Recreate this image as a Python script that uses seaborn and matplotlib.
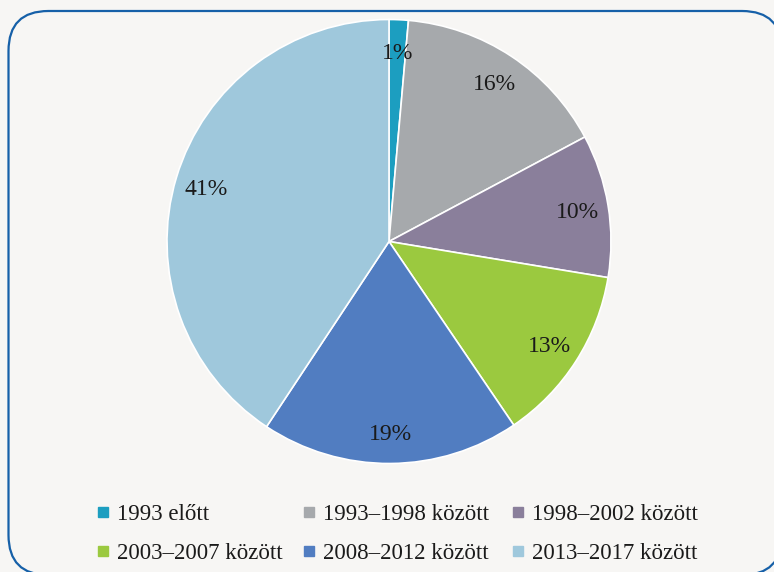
import matplotlib.pyplot as plt
import seaborn as sns
from matplotlib.patches import FancyBboxPatch
from matplotlib.lines import Line2D

sns.set_theme(style='white')
plt.rcParams['font.family'] = ['Liberation Serif', 'DejaVu Serif']

# Data
labels = ['1993 előtt', '1993–1998 között', '1998–2002 között',
          '2003–2007 között', '2008–2012 között', '2013–2017 között']
shares = [1.4, 15.8, 10.4, 12.9, 18.8, 40.7]
colors = ['#1c9ec0', '#a6a9ac', '#8a7f9b', '#9bc93f', '#517dc1', '#9fc8dc']

bg = '#f7f6f4'
fig = plt.figure(figsize=(7.74, 5.72), dpi=100, facecolor=bg)

# rounded frame drawn on a full-figure axes in pixel units
frame_ax = fig.add_axes([0, 0, 1, 1])
frame_ax.set_xlim(0, 774)
frame_ax.set_ylim(0, 572)
frame_ax.axis('off')
frame_ax.add_patch(FancyBboxPatch((8.5, -3), 773.5, 564, boxstyle='round,pad=0,rounding_size=40',
                                  facecolor=bg, edgecolor='#1660a8', linewidth=1.6))

# pie
cx, cy, r = 389, 241.5, 222
ax = fig.add_axes([(cx - r) / 774, (572 - cy - r) / 572, 2 * r / 774, 2 * r / 572])
wedges, texts, autotexts = ax.pie(shares, colors=colors, startangle=90, counterclock=False,
                                  autopct='%.0f%%', pctdistance=0.86,
                                  wedgeprops=dict(edgecolor='white', linewidth=1.2),
                                  textprops=dict(fontsize=17, color='#1a1a1a'))
for t in autotexts:
    t.set_va('center_baseline')
ax.set_xlim(-1, 1)
ax.set_ylim(-1, 1)
ax.set_aspect('equal')
ax.axis('off')

# legend: three columns of two rows each
col_x = [96, 302, 511]
for c in range(3):
    idx = [c, c + 3]
    handles = [Line2D([], [], marker='s', linestyle='none', markersize=6.5,
                      markerfacecolor=colors[i], markeredgecolor=colors[i]) for i in idx]
    fig.legend(handles, [labels[i] for i in idx], loc='upper left',
               bbox_to_anchor=(col_x[c] / 774, 1 - 504 / 572), frameon=False,
               fontsize=16.5, handlelength=0.6, handletextpad=0.3, labelspacing=0.8,
               borderaxespad=0, borderpad=0, labelcolor='#1a1a1a')

fig.savefig('out.png', dpi=100, facecolor=bg)
